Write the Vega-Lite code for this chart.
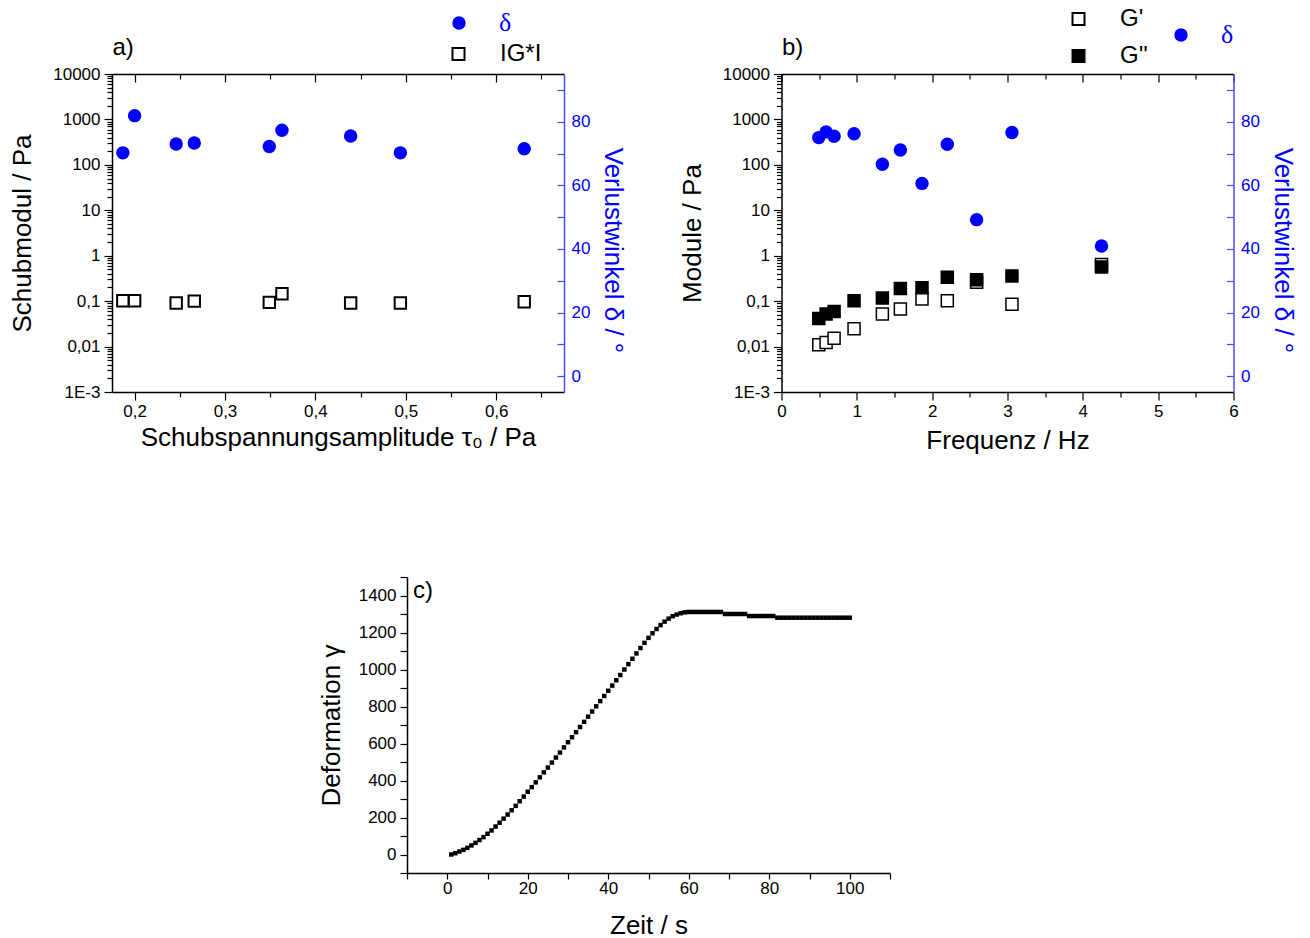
{
"$schema": "https://vega.github.io/schema/vega-lite/v6.json",
"autosize": {"type": "none"},
"padding": {"left": 112, "top": 74, "right": 1198, "bottom": 864},
"background": "white",
"bounds": "flush",
"spacing": 503,
"resolve": {"scale": {"fill": "independent", "color": "independent"}},
"datasets": {
"aG": [
{"tau": 0.187, "G": 0.102, "s": "IG*I"},
{"tau": 0.200, "G": 0.102, "s": "IG*I"},
{"tau": 0.246, "G": 0.091, "s": "IG*I"},
{"tau": 0.266, "G": 0.100, "s": "IG*I"},
{"tau": 0.349, "G": 0.094, "s": "IG*I"},
{"tau": 0.363, "G": 0.146, "s": "IG*I"},
{"tau": 0.439, "G": 0.091, "s": "IG*I"},
{"tau": 0.494, "G": 0.091, "s": "IG*I"},
{"tau": 0.631, "G": 0.097, "s": "IG*I"}
],
"ad": [
{"tau": 0.187, "d": 70.2, "s": "δ"},
{"tau": 0.200, "d": 81.9, "s": "δ"},
{"tau": 0.246, "d": 73.0, "s": "δ"},
{"tau": 0.266, "d": 73.3, "s": "δ"},
{"tau": 0.349, "d": 72.2, "s": "δ"},
{"tau": 0.363, "d": 77.3, "s": "δ"},
{"tau": 0.439, "d": 75.5, "s": "δ"},
{"tau": 0.494, "d": 70.2, "s": "δ"},
{"tau": 0.631, "d": 71.5, "s": "δ"}
],
"bG": [
{"f": 0.495, "G": 0.0109, "s": "G'"},
{"f": 0.592, "G": 0.0123, "s": "G'"},
{"f": 0.698, "G": 0.0153, "s": "G'"},
{"f": 0.963, "G": 0.0246, "s": "G'"},
{"f": 1.339, "G": 0.052, "s": "G'"},
{"f": 1.578, "G": 0.067, "s": "G'"},
{"f": 1.865, "G": 0.111, "s": "G'"},
{"f": 2.201, "G": 0.102, "s": "G'"},
{"f": 2.590, "G": 0.259, "s": "G'"},
{"f": 3.059, "G": 0.085, "s": "G'"},
{"f": 4.248, "G": 0.637, "s": "G'"},
{"f": 0.495, "G": 0.0415, "s": "G''"},
{"f": 0.592, "G": 0.052, "s": "G''"},
{"f": 0.698, "G": 0.059, "s": "G''"},
{"f": 0.963, "G": 0.102, "s": "G''"},
{"f": 1.339, "G": 0.117, "s": "G''"},
{"f": 1.578, "G": 0.191, "s": "G''"},
{"f": 1.865, "G": 0.198, "s": "G''"},
{"f": 2.201, "G": 0.334, "s": "G''"},
{"f": 2.590, "G": 0.297, "s": "G''"},
{"f": 3.059, "G": 0.359, "s": "G''"},
{"f": 4.248, "G": 0.567, "s": "G''"}
],
"bd": [
{"f": 0.495, "d": 75.0, "s": "δ"},
{"f": 0.592, "d": 76.8, "s": "δ"},
{"f": 0.698, "d": 75.4, "s": "δ"},
{"f": 0.963, "d": 76.2, "s": "δ"},
{"f": 1.339, "d": 66.6, "s": "δ"},
{"f": 1.578, "d": 71.1, "s": "δ"},
{"f": 1.865, "d": 60.6, "s": "δ"},
{"f": 2.201, "d": 72.9, "s": "δ"},
{"f": 2.590, "d": 49.2, "s": "δ"},
{"f": 3.059, "d": 76.6, "s": "δ"},
{"f": 4.248, "d": 40.9, "s": "δ"}
],
"c": [
{"t":1,"g":0},{"t":2,"g":7},{"t":3,"g":16},{"t":4,"g":25},{"t":5,"g":36},{"t":6,"g":49},{"t":7,"g":63},{"t":8,"g":78},{"t":9,"g":94},{"t":10,"g":112},
{"t":11,"g":130},{"t":12,"g":151},{"t":13,"g":172},{"t":14,"g":194},{"t":15,"g":216},{"t":16,"g":239},{"t":17,"g":263},{"t":18,"g":288},{"t":19,"g":313},{"t":20,"g":339},
{"t":21,"g":364},{"t":22,"g":390},{"t":23,"g":417},{"t":24,"g":444},{"t":25,"g":470},{"t":26,"g":497},{"t":27,"g":524},{"t":28,"g":551},{"t":29,"g":579},{"t":30,"g":607},
{"t":31,"g":634},{"t":32,"g":661},{"t":33,"g":689},{"t":34,"g":717},{"t":35,"g":745},{"t":36,"g":773},{"t":37,"g":801},{"t":38,"g":829},{"t":39,"g":857},{"t":40,"g":885},
{"t":41,"g":913},{"t":42,"g":942},{"t":43,"g":970},{"t":44,"g":1000},{"t":45,"g":1029},{"t":46,"g":1058},{"t":47,"g":1087},{"t":48,"g":1116},{"t":49,"g":1144},{"t":50,"g":1171},
{"t":51,"g":1196},{"t":52,"g":1219},{"t":53,"g":1240},{"t":54,"g":1259},{"t":55,"g":1275},{"t":56,"g":1288},{"t":57,"g":1297},{"t":58,"g":1304},{"t":59,"g":1309},{"t":60,"g":1311},
{"t":61,"g":1311},{"t":62,"g":1311},{"t":63,"g":1311},{"t":64,"g":1311},{"t":65,"g":1311},{"t":66,"g":1311},{"t":67,"g":1311},{"t":68,"g":1311},{"t":69,"g":1300},{"t":70,"g":1300},
{"t":71,"g":1300},{"t":72,"g":1300},{"t":73,"g":1300},{"t":74,"g":1300},{"t":75,"g":1289},{"t":76,"g":1289},{"t":77,"g":1289},{"t":78,"g":1289},{"t":79,"g":1289},{"t":80,"g":1289},
{"t":81,"g":1289},{"t":82,"g":1280},{"t":83,"g":1280},{"t":84,"g":1280},{"t":85,"g":1280},{"t":86,"g":1280},{"t":87,"g":1280},{"t":88,"g":1280},{"t":89,"g":1280},{"t":90,"g":1280},
{"t":91,"g":1280},{"t":92,"g":1280},{"t":93,"g":1280},{"t":94,"g":1280},{"t":95,"g":1280},{"t":96,"g":1280},{"t":97,"g":1280},{"t":98,"g":1280},{"t":99,"g":1280},{"t":100,"g":1280}
]
},
"vconcat": [
{
"bounds": "flush",
"spacing": 217.5,
"resolve": {"scale": {"fill": "independent", "color": "independent"}},
"hconcat": [
{
"width": 452, "height": 318,
"layer": [
{
"data": {"name": "aG"},
"mark": {"type": "square", "size": 130, "stroke": "black", "strokeWidth": 2, "opacity": 1, "fillOpacity": 1},
"encoding": {
"x": {"field": "tau", "type": "quantitative", "scale": {"domain": [0.175, 0.675], "nice": false, "zero": false},
 "axis": {"orient": "bottom", "values": [0.2,0.25,0.3,0.35,0.4,0.45,0.5,0.55,0.6,0.65],
  "labelExpr": "indexof([0.2,0.3,0.4,0.5,0.6], datum.value) >= 0 ? replace(format(datum.value, '.1f'), '.', ',') : ''",
  "tickSize": {"condition": {"test": "indexof([0.2,0.3,0.4,0.5,0.6], datum.value) >= 0", "value": 8}, "value": 5},
  "labelPadding": 3, "title": "Schubspannungsamplitude τ₀ / Pa", "titlePadding": 5}},
"y": {"field": "G", "type": "quantitative", "scale": {"type": "log", "domain": [0.001, 10000], "nice": false},
 "axis": {"orient": "left", "values": [0.001,0.002,0.003,0.004,0.005,0.006,0.007,0.008,0.009,0.01,0.02,0.03,0.04,0.05,0.06,0.07,0.08,0.09,0.1,0.2,0.3,0.4,0.5,0.6,0.7,0.8,0.9,1,2,3,4,5,6,7,8,9,10,20,30,40,50,60,70,80,90,100,200,300,400,500,600,700,800,900,1000,2000,3000,4000,5000,6000,7000,8000,9000,10000],
  "labelExpr": "datum.value == 10000 ? '10000' : datum.value == 1000 ? '1000' : datum.value == 100 ? '100' : datum.value == 10 ? '10' : datum.value == 1 ? '1' : datum.value == 0.1 ? '0,1' : datum.value == 0.01 ? '0,01' : datum.value == 0.001 ? '1E-3' : ''",
  "tickSize": {"condition": {"test": "indexof([0.001,0.01,0.1,1,10,100,1000,10000], datum.value) >= 0", "value": 8}, "value": 5},
  "labelPadding": 4, "title": "Schubmodul / Pa", "titlePadding": 17}},
"fill": {"field": "s", "type": "nominal", "scale": {"domain": ["IG*I"], "range": ["white"]},
 "legend": {"orient": "none", "legendX": 334.5, "legendY": -32, "title": null, "padding": 0, "symbolType": "square", "symbolSize": 144, "symbolStrokeColor": "black", "symbolStrokeWidth": 2, "labelFont": "Liberation Sans", "labelFontSize": 24, "labelColor": "black", "labelOffset": 29.5}}
}
},
{
"data": {"name": "ad"},
"mark": {"type": "circle", "size": 180, "opacity": 1},
"encoding": {
"x": {"field": "tau", "type": "quantitative",
 "axis": {"orient": "top", "values": [0.2,0.25,0.3,0.35,0.4,0.45,0.5,0.55,0.6,0.65], "labels": false,
  "tickSize": {"condition": {"test": "indexof([0.2,0.3,0.4,0.5,0.6], datum.value) >= 0", "value": -8}, "value": -5},
  "title": "a)", "titleX": 0, "titleY": -20, "titleAlign": "left", "titleBaseline": "alphabetic", "titleAngle": 0, "titleFontSize": 24}},
"y": {"field": "d", "type": "quantitative", "scale": {"domain": [-5, 95], "nice": false, "zero": false},
 "axis": {"orient": "right", "values": [0,10,20,30,40,50,60,70,80,90],
  "labelExpr": "datum.value % 20 == 0 ? format(datum.value, 'd') : ''",
  "tickSize": -7, "labelPadding": 14, "domainColor": "#4a4aff", "tickColor": "#4a4aff", "labelColor": "#0000ff", "titleColor": "#0000ff",
  "title": "Verlustwinkel δ / °", "titlePadding": 10, "titleY": 176}},
"color": {"field": "s", "type": "nominal", "scale": {"domain": ["δ"], "range": ["#0000ff"]},
 "legend": {"orient": "none", "legendX": 334, "legendY": -64, "title": null, "padding": 0, "symbolType": "circle", "symbolSize": 180, "symbolStrokeWidth": 0, "labelFont": "Liberation Serif", "labelFontSize": 26, "labelColor": "#0000ff", "labelOffset": 27}}
}
}
],
"resolve": {"scale": {"y": "independent"}, "axis": {"x": "independent"}}
},
{
"width": 452, "height": 318,
"layer": [
{
"data": {"name": "bG"},
"mark": {"type": "square", "size": 144, "stroke": "black", "strokeWidth": 1.5, "opacity": 1, "fillOpacity": 1},
"encoding": {
"x": {"field": "f", "type": "quantitative", "scale": {"domain": [0, 6], "nice": false, "zero": false},
 "axis": {"orient": "bottom", "values": [0,0.5,1,1.5,2,2.5,3,3.5,4,4.5,5,5.5,6],
  "labelExpr": "datum.value % 1 == 0 ? format(datum.value, 'd') : ''",
  "tickSize": {"condition": {"test": "datum.value % 1 == 0", "value": 8}, "value": 5},
  "labelPadding": 3, "title": "Frequenz / Hz", "titlePadding": 8}},
"y": {"field": "G", "type": "quantitative", "scale": {"type": "log", "domain": [0.001, 10000], "nice": false},
 "axis": {"orient": "left", "values": [0.001,0.002,0.003,0.004,0.005,0.006,0.007,0.008,0.009,0.01,0.02,0.03,0.04,0.05,0.06,0.07,0.08,0.09,0.1,0.2,0.3,0.4,0.5,0.6,0.7,0.8,0.9,1,2,3,4,5,6,7,8,9,10,20,30,40,50,60,70,80,90,100,200,300,400,500,600,700,800,900,1000,2000,3000,4000,5000,6000,7000,8000,9000,10000],
  "labelExpr": "datum.value == 10000 ? '10000' : datum.value == 1000 ? '1000' : datum.value == 100 ? '100' : datum.value == 10 ? '10' : datum.value == 1 ? '1' : datum.value == 0.1 ? '0,1' : datum.value == 0.01 ? '0,01' : datum.value == 0.001 ? '1E-3' : ''",
  "tickSize": {"condition": {"test": "indexof([0.001,0.01,0.1,1,10,100,1000,10000], datum.value) >= 0", "value": 8}, "value": 5},
  "labelPadding": 4, "title": "Module / Pa", "titlePadding": 17}},
"fill": {"field": "s", "type": "nominal", "scale": {"domain": ["G'", "G''"], "range": ["white", "black"]},
 "legend": {"orient": "none", "legendX": 285, "legendY": -67, "title": null, "padding": 0, "rowPadding": 13, "symbolType": "square", "symbolSize": 144, "symbolStrokeColor": "black", "symbolStrokeWidth": 2, "labelFont": "Liberation Sans", "labelFontSize": 24, "labelColor": "black", "labelOffset": 29.5}}
}
},
{
"data": {"name": "bd"},
"mark": {"type": "circle", "size": 180, "opacity": 1},
"encoding": {
"x": {"field": "f", "type": "quantitative",
 "axis": {"orient": "top", "values": [0,0.5,1,1.5,2,2.5,3,3.5,4,4.5,5,5.5,6], "labels": false,
  "tickSize": {"condition": {"test": "datum.value % 1 == 0", "value": -8}, "value": -5},
  "title": "b)", "titleX": 0, "titleY": -20, "titleAlign": "left", "titleBaseline": "alphabetic", "titleAngle": 0, "titleFontSize": 24}},
"y": {"field": "d", "type": "quantitative", "scale": {"domain": [-5, 95], "nice": false, "zero": false},
 "axis": {"orient": "right", "values": [0,10,20,30,40,50,60,70,80,90],
  "labelExpr": "datum.value % 20 == 0 ? format(datum.value, 'd') : ''",
  "tickSize": -7, "labelPadding": 14, "domainColor": "#4a4aff", "tickColor": "#4a4aff", "labelColor": "#0000ff", "titleColor": "#0000ff",
  "title": "Verlustwinkel δ / °", "titlePadding": 10, "titleY": 176}},
"color": {"field": "s", "type": "nominal", "scale": {"domain": ["δ"], "range": ["#0000ff"]},
 "legend": {"orient": "none", "legendX": 386.5, "legendY": -52, "title": null, "padding": 0, "symbolType": "circle", "symbolSize": 180, "symbolStrokeWidth": 0, "labelFont": "Liberation Serif", "labelFontSize": 26, "labelColor": "#0000ff", "labelOffset": 27}}
}
}
],
"resolve": {"scale": {"y": "independent"}, "axis": {"x": "independent"}}
}
]
},
{
"bounds": "flush",
"spacing": 0,
"hconcat": [
{
"width": 295, "height": 290,
"data": {"values": []},
"mark": {"type": "point", "opacity": 0}
},
{
"width": 483, "height": 296,
"title": {"text": "c)", "offset": -27, "dx": 6, "anchor": "start", "frame": "group", "fontSize": 24},
"data": {"name": "c"},
"mark": {"type": "square", "size": 20, "color": "black", "opacity": 1},
"encoding": {
"x": {"field": "t", "type": "quantitative", "scale": {"domain": [-10, 110], "nice": false, "zero": false},
 "axis": {"values": [-10,0,10,20,30,40,50,60,70,80,90,100,110],
  "labelExpr": "datum.value % 20 == 0 && datum.value >= 0 && datum.value <= 100 ? format(datum.value, 'd') : ''",
  "tickSize": 6, "labelPadding": 1, "title": "Zeit / s", "titlePadding": 16}},
"y": {"field": "g", "type": "quantitative", "scale": {"domain": [-100, 1500], "nice": false, "zero": false},
 "axis": {"values": [-100,0,100,200,300,400,500,600,700,800,900,1000,1100,1200,1300,1400,1500],
  "labelExpr": "datum.value % 200 == 0 && datum.value >= 0 && datum.value <= 1400 ? format(datum.value, 'd') : ''",
  "tickSize": 7, "labelPadding": 4, "title": "Deformation γ", "titlePadding": 14}}
}
}
]
}
],
"config": {
"view": {"stroke": null},
"font": "Liberation Sans",
"title": {"font": "Liberation Sans", "fontWeight": "normal", "color": "black"},
"axis": {"grid": false, "labelFlush": false, "labelFont": "Liberation Sans", "labelFontSize": 17, "labelColor": "black", "titleFont": "Liberation Sans", "titleFontSize": 26, "titleFontWeight": "normal", "titleColor": "black", "domainColor": "black", "domainWidth": 1.5, "tickColor": "black", "tickWidth": 1.2}
}
}
